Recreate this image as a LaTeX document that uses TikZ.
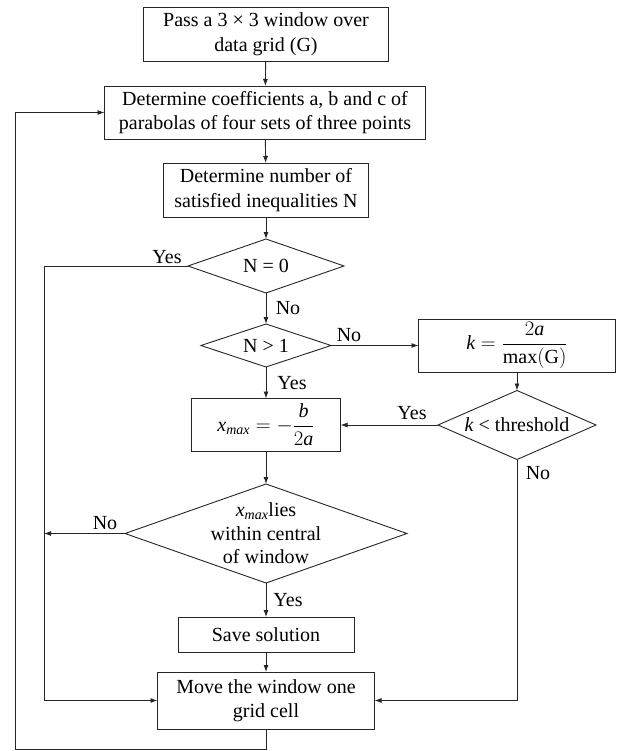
\documentclass[tikz,border=0pt]{standalone}
\usepackage{fontspec}
\setmainfont{Liberation Serif}
\usetikzlibrary{shapes.geometric,arrows.meta}
\begin{document}
\begin{tikzpicture}[x=1pt,y=-1pt,
  font=\fontsize{20}{24.5}\selectfont,
  box/.style={draw=black!85, rectangle, line width=0.9pt, inner sep=0pt, outer sep=0pt, align=center},
  dia/.style={draw=black!85, diamond, line width=0.9pt, inner sep=0pt, outer sep=0pt, align=center},
  arr/.style={draw=black!85, -{Latex[length=7pt,width=5pt]}, line width=0.9pt},
  lbl/.style={inner sep=0pt}]
\useasboundingbox (0,0) rectangle (620,751);

% boxes
\node[box, minimum width=245pt, minimum height=54pt] (b1) at (266,34) {Pass a 3 × 3 window over\\data grid (G)};
\node[box, minimum width=321pt, minimum height=53pt] (b2) at (265,112.5) {Determine coefficients a, b and c of\\parabolas of four sets of three points};
\node[box, minimum width=205pt, minimum height=54pt] (b3) at (266,190) {Determine number of\\satisfied inequalities N};
\node[dia, aspect=2.9, minimum width=156pt, minimum height=54pt] (d1) at (266,266) {N = 0};
\node[dia, aspect=3, minimum width=130pt, minimum height=43pt] (d2) at (266,345.5) {N > 1};
\node[box, minimum width=197pt, minimum height=53pt] (kb) at (517,345.5) {$\mathit{k}=\displaystyle\frac{2\mathit{a}}{\mathrm{max(G)}}$};
\node[dia, aspect=2.3, minimum width=158pt, minimum height=69pt] (d3) at (517,425) {\textit{k} < threshold};
\node[box, minimum width=149pt, minimum height=53pt] (b4) at (266,425) {$\mathit{x}_{\mathit{max}}=-\displaystyle\frac{\mathit{b}}{2\mathit{a}}$};
\node[dia, minimum width=282pt, minimum height=99pt,
  label={[align=center, inner sep=0pt, font=\fontsize{20}{23.5}\selectfont]center:$\mathit{x}_{\mathit{max}}$lies\\within central\\of window}] (d4) at (266,533.5) {};
\node[box, minimum width=176pt, minimum height=35pt] (sv) at (266,634.5) {Save solution};
\node[box, minimum width=217pt, minimum height=57pt] (mv) at (266,700.5) {Move the window one\\grid cell};

% helper coordinates
\coordinate (L1) at (44,266);
\coordinate (L2) at (44,700.5);
\coordinate (B) at (266,749);
\coordinate (O) at (15,749);

% connectors
\draw[arr] (b1) -- (b2);
\draw[arr] (b2) -- (b3);
\draw[arr] (b3) -- (d1);
\draw[arr] (d1) -- (d2);
\draw[arr] (d2) -- (b4);
\draw[arr] (b4) -- (d4);
\draw[arr] (d4) -- (sv);
\draw[arr] (sv) -- (mv);
\draw[arr] (d2.east) -- (kb.west);
\draw[arr] (kb) -- (d3);
\draw[arr] (d3.west) -- (b4.east);
\draw[arr] (d1.west) -- (L1) -- (L2) -- (mv.west);
\draw[arr] (d4.west) -- (d4.west -| L1);
\draw[arr] (d3.south) |- (mv.east);
\draw[arr] (mv.south) -- (B) -- (O) -- (O |- b2.west) -- (b2.west);

% labels
\node[lbl] (t1) at (167,257) {Yes};
\node[lbl] (t2) at (288,308) {No};
\node[lbl] (t3) at (349,335) {No};
\node[lbl] (t4) at (292,383) {Yes};
\node[lbl] (t5) at (412,413) {Yes};
\node[lbl] (t6) at (538,473) {No};
\node[lbl] (t7) at (105,523) {No};
\node[lbl] (t8) at (288,600) {Yes};
\end{tikzpicture}
\end{document}
